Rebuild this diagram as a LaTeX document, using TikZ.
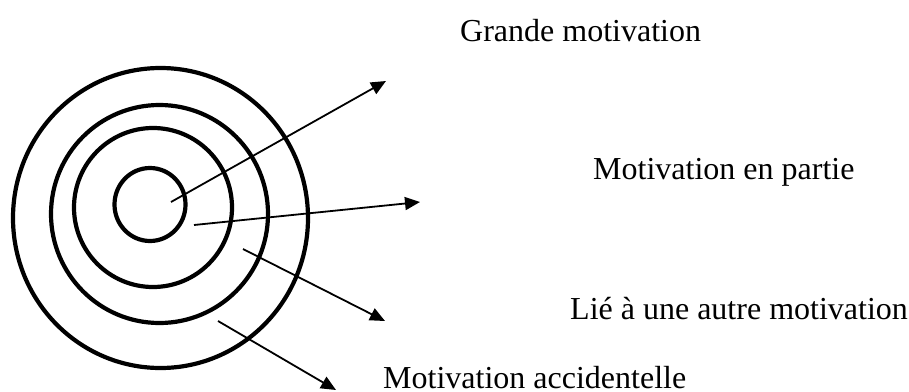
\documentclass[tikz,border=0pt]{standalone}
\usepackage{fontspec}
\setmainfont{Liberation Serif}
\usepackage{tikz}
\usetikzlibrary{arrows.meta}

\begin{document}
\begin{tikzpicture}[x=1pt, y=-1pt,
    ring/.style={draw, line width=4.2pt},
    pointer/.style={-{Triangle[length=15pt, width=13pt]}, line width=1.8pt},
    label/.style={anchor=base west, inner sep=0pt, font=\fontsize{32}{38}\selectfont}]
    \useasboundingbox (0,0) rectangle (909,391);

    \draw[ring] (150,204.5) ellipse [x radius=35.5pt, y radius=36.5pt];
    \draw[ring] (153,207.5) ellipse [x radius=79pt, y radius=79.5pt];
    \draw[ring] (159.5,214) ellipse [x radius=108.5pt, y radius=109pt];
    \draw[ring] (160.5,218) ellipse [x radius=147.5pt, y radius=150pt];

    \node[label] (grande) at (460,41) {Grande motivation};
    \node[label] (partie) at (593,179) {Motivation en partie};
    \node[label] (lie) at (570,319) {Lié à une autre motivation};
    \node[label] (accid) at (383,388) {Motivation accidentelle};

    \coordinate (s1) at (171,202);
    \coordinate (e1) at (386,81);
    \coordinate (s2) at (194,225);
    \coordinate (e2) at (420,202);
    \coordinate (s3) at (243,249);
    \coordinate (e3) at (385,321);
    \coordinate (s4) at (218,321);
    \coordinate (e4) at (336,390);

    \draw[pointer] (s1) -- (e1);
    \draw[pointer] (s2) -- (e2);
    \draw[pointer] (s3) -- (e3);
    \draw[pointer] (s4) -- (e4);
\end{tikzpicture}
\end{document}
